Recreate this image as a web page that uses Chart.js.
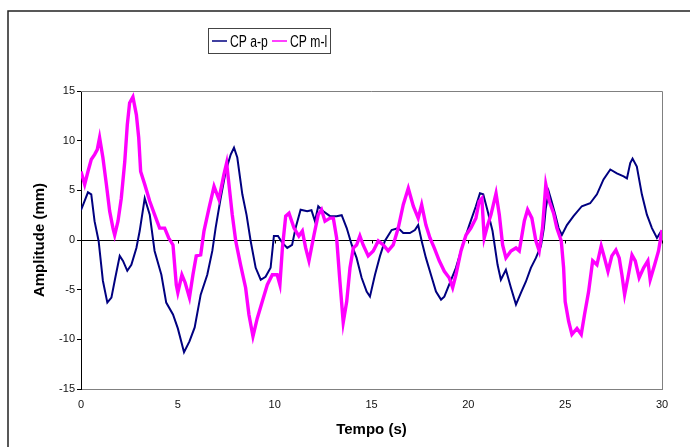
<!DOCTYPE html>
<html>
<head>
<meta charset="utf-8">
<script src="https://cdn.jsdelivr.net/npm/chart.js@4/dist/chart.umd.min.js"></script>
<style>
  html, body { margin: 0; padding: 0; background: #fff; }
  #wrap { position: relative; width: 690px; height: 447px; }
</style>
</head>
<body>
<div id="wrap"><canvas id="cpChart" width="690" height="447"></canvas></div>
<script>
// CP a-p: time (s) and amplitude (mm)
var apTime = [0, 0.36, 0.53, 0.7, 0.91, 1.13, 1.36, 1.57, 1.77, 2.0, 2.17, 2.39, 2.6, 2.86, 3.03, 3.29, 3.55, 3.8, 4.15, 4.4,
  4.75, 5.0, 5.32, 5.6, 5.87, 6.18, 6.52, 6.78, 6.95, 7.21, 7.47, 7.73, 7.9, 8.07, 8.33, 8.55, 8.76, 9.02, 9.28, 9.53,
  9.79, 9.96, 10.17, 10.4, 10.65, 10.9, 11.08, 11.34, 11.68, 11.9, 12.08, 12.25, 12.51, 12.86, 13.2, 13.46, 13.72, 13.98, 14.23, 14.49,
  14.75, 14.92, 15.18, 15.44, 15.69, 16.04, 16.38, 16.64, 16.98, 17.24, 17.41, 17.59, 17.81, 18.07, 18.33, 18.59, 18.76, 19.01, 19.36, 19.71,
  20.05, 20.39, 20.6, 20.77, 21.0, 21.25, 21.51, 21.68, 21.94, 22.2, 22.46, 22.72, 22.97, 23.23, 23.49, 23.75, 23.9, 24.0, 24.15, 24.3,
  24.49, 24.66, 24.83, 25.09, 25.43, 25.86, 26.29, 26.64, 26.98, 27.33, 27.67, 28.02, 28.19, 28.36, 28.48, 28.7, 28.96, 29.22, 29.48, 29.74, 29.96];
var apValues = [3.0, 4.8, 4.6, 1.9, -0.1, -4.1, -6.3, -5.8, -3.8, -1.6, -2.1, -3.1, -2.5, -0.8, 0.9, 4.2, 2.55, -1.1, -3.5, -6.3,
  -7.5, -8.9, -11.3, -10.2, -8.8, -5.5, -3.5, -1.1, 1.2, 4.2, 6.9, 8.6, 9.3, 8.3, 4.6, 2.5, -0.1, -2.8, -4.0, -3.7,
  -2.8, 0.4, 0.4, -0.3, -0.8, -0.5, 1.2, 3.05, 2.9, 3.0, 1.9, 3.4, 2.9, 2.4, 2.4, 2.5, 1.2, -0.5, -1.8, -3.8,
  -5.2, -5.7, -3.5, -1.6, -0.1, 1.0, 1.2, 0.7, 0.7, 1.0, 1.5, -0.1, -1.8, -3.5, -5.2, -6.0, -5.7, -4.5, -2.8, -0.5,
  1.5, 3.4, 4.7, 4.6, 2.9, 0.9, -2.5, -4.0, -3.0, -4.8, -6.5, -5.3, -4.2, -2.8, -1.8, -0.6, 1.2, 3.2, 4.9, 3.9,
  2.55, 1.2, 0.5, 1.5, 2.4, 3.4, 3.7, 4.6, 6.1, 7.1, 6.7, 6.4, 6.2, 7.75, 8.2, 7.4, 4.6, 2.55, 1.2, 0.2, 0.9];

// CP m-l: time (s) and amplitude (mm)
var mlTime = [0, 0.19, 0.36, 0.53, 0.7, 0.84, 0.96, 1.13, 1.31, 1.48, 1.65, 1.74, 1.91, 2.08, 2.26, 2.39, 2.51, 2.68, 2.86, 2.98,
  3.08, 3.29, 3.55, 3.8, 4.06, 4.32, 4.53, 4.75, 4.92, 5.0, 5.21, 5.38, 5.6, 5.78, 5.95, 6.18, 6.35, 6.61, 6.87, 7.12,
  7.38, 7.52, 7.64, 7.81, 7.99, 8.24, 8.5, 8.67, 8.88, 9.1, 9.36, 9.62, 9.88, 10.13, 10.27, 10.4, 10.57, 10.74, 11.0, 11.25,
  11.43, 11.6, 11.77, 12.03, 12.25, 12.42, 12.6, 12.86, 13.03, 13.2, 13.37, 13.54, 13.72, 13.89, 14.06, 14.23, 14.4, 14.57, 14.83, 15.09,
  15.35, 15.61, 15.86, 16.12, 16.38, 16.64, 16.9, 17.16, 17.41, 17.59, 17.81, 18.02, 18.24, 18.5, 18.76, 19.01, 19.19, 19.36, 19.62, 19.88,
  20.13, 20.39, 20.56, 20.7, 20.82, 21.0, 21.17, 21.43, 21.6, 21.77, 21.94, 22.2, 22.46, 22.63, 22.89, 23.06, 23.28, 23.49, 23.66, 23.83,
  24.0, 24.18, 24.4, 24.57, 24.8, 24.92, 25.0, 25.18, 25.35, 25.61, 25.83, 26.0, 26.21, 26.42, 26.64, 26.86, 27.03, 27.21, 27.41, 27.62,
  27.79, 27.93, 28.07, 28.24, 28.45, 28.62, 28.82, 29.05, 29.27, 29.39, 29.62, 29.82, 30.0];
var mlValues = [6.9, 5.6, 6.9, 8.1, 8.6, 9.1, 10.3, 8.3, 5.6, 2.9, 1.2, 0.5, 1.9, 4.2, 7.9, 11.6, 13.8, 14.4, 12.6, 10.3,
  6.9, 5.6, 3.9, 2.55, 1.2, 1.2, 0.2, -0.5, -4.5, -5.3, -3.5, -4.3, -5.8, -3.5, -1.6, -1.5, 0.9, 3.2, 5.4, 4.1,
  6.6, 7.75, 5.6, 2.55, -0.1, -2.5, -4.8, -7.5, -9.7, -7.9, -6.2, -4.5, -3.5, -3.5, -4.5, -0.8, 2.4, 2.7, 1.2, 0.4,
  0.9, -0.8, -2.1, 0.5, 2.55, 3.05, 1.9, 2.2, 2.2, 0.2, -4.2, -8.3, -6.2, -2.8, -0.8, -0.5, 0.4, -0.5, -1.6, -1.1,
  -0.1, -0.5, -1.1, -0.5, 1.2, 3.55, 5.2, 3.4, 2.2, 3.55, 1.5, 0.2, -0.8, -2.1, -3.15, -3.8, -4.8, -3.5, -1.1, 0.5,
  1.2, 2.2, 3.9, 4.2, 0.2, 1.5, 2.55, 4.7, 2.55, -0.5, -1.8, -1.1, -0.8, -1.1, 1.9, 3.05, 2.2, -0.1, -1.1, 1.2,
  5.6, 3.9, 2.7, 1.2, -0.1, -2.8, -6.2, -8.2, -9.5, -8.9, -9.5, -7.5, -5.2, -2.1, -2.5, -0.6, -1.8, -3.15, -1.6, -1.0,
  -1.8, -3.5, -5.5, -3.8, -1.5, -2.1, -3.8, -2.8, -2.1, -4.0, -2.5, -1.1, 1.0];

var xTicks = [0, 5, 10, 15, 20, 25, 30];
var yTicks = [-15, -10, -5, 0, 5, 10, 15];
var seriesNames = ['CP a-p', 'CP m-l'];
var seriesColors = ['#000080', '#ff00ff'];

function toPoints(ts, vs) {
  return ts.map(function (t, i) { return { x: t, y: vs[i] }; });
}

var FONT = "'Liberation Sans', Arial, sans-serif";

// frame, plot border, tick marks on the zero line and the boxed legend
var decor = {
  id: 'decor',
  beforeDraw: function (chart) {
    var c = chart.ctx;
    c.save();
    c.fillStyle = '#fff';
    c.fillRect(0, 0, chart.width, chart.height);
    c.strokeStyle = '#222';
    c.lineWidth = 1.5;
    c.strokeRect(8, 11, chart.width + 20, chart.height + 20);
    c.restore();
  },
  beforeDatasetsDraw: function (chart) {
    var c = chart.ctx, a = chart.chartArea;
    var xs = chart.scales.x, ys = chart.scales.y;
    c.save();
    c.strokeStyle = '#808080';
    c.lineWidth = 1;
    c.beginPath();
    c.moveTo(a.left, a.top + 0.5);
    c.lineTo(a.right + 0.5, a.top + 0.5);
    c.lineTo(a.right + 0.5, a.bottom);
    c.stroke();
    var y0 = Math.round(ys.getPixelForValue(0)) + 0.5;
    c.strokeStyle = '#000';
    c.beginPath();
    xTicks.forEach(function (t) {
      var px = Math.round(xs.getPixelForValue(t)) + 0.5;
      c.moveTo(px, y0);
      c.lineTo(px, y0 + 3);
    });
    c.stroke();
    c.restore();
  },
  afterDraw: function (chart) {
    var c = chart.ctx;
    c.save();
    c.fillStyle = '#fff';
    c.fillRect(208, 28, 122, 25);
    c.strokeStyle = '#444';
    c.lineWidth = 1;
    c.strokeRect(208.5, 28.5, 122, 25);
    var items = [{ x: 212, tx: 230 }, { x: 272, tx: 290 }];
    items.forEach(function (it, i) {
      c.strokeStyle = seriesColors[i];
      c.lineWidth = 1.5;
      c.beginPath();
      c.moveTo(it.x, 41);
      c.lineTo(it.x + 15, 41);
      c.stroke();
      // narrow the legend text horizontally
      c.save();
      c.translate(it.tx, 47);
      c.scale(0.76, 1);
      c.font = "16px " + FONT;
      c.fillStyle = '#000';
      c.textBaseline = 'alphabetic';
      c.fillText(seriesNames[i], 0, 0);
      c.restore();
    });
    c.restore();
  }
};

var ctx = document.getElementById('cpChart').getContext('2d');
new Chart(ctx, {
  type: 'line',
  data: {
    datasets: [
      { label: seriesNames[0], data: toPoints(apTime, apValues), borderColor: seriesColors[0], borderWidth: 2, pointRadius: 0, tension: 0, order: 2 },
      { label: seriesNames[1], data: toPoints(mlTime, mlValues), borderColor: seriesColors[1], borderWidth: 3.4, pointRadius: 0, tension: 0, order: 1 }
    ]
  },
  options: {
    responsive: false,
    animation: false,
    layout: { padding: { left: 0, right: 28, top: 91, bottom: 0 } },
    plugins: { legend: { display: false }, tooltip: { enabled: false } },
    scales: {
      x: {
        type: 'linear', min: 0, max: 30,
        afterBuildTicks: function (s) { s.ticks = xTicks.map(function (v) { return { value: v }; }); },
        afterFit: function (s) { s.height = 58; },
        grid: { display: false, drawTicks: false },
        border: { display: true, color: '#808080', width: 1 },
        ticks: { padding: 9, color: '#111', font: { family: FONT, size: 11 }, maxRotation: 0 },
        title: { display: true, text: 'Tempo (s)', color: '#000', font: { family: FONT, size: 15, weight: 'bold' }, padding: { top: 0, bottom: 8 } }
      },
      y: {
        min: -15, max: 15,
        afterBuildTicks: function (s) { s.ticks = yTicks.map(function (v) { return { value: v }; }); },
        afterFit: function (s) { s.width = 81; },
        grid: {
          color: function (c) { return c.tick && c.tick.value === 0 ? '#000' : 'rgba(0,0,0,0)'; },
          tickColor: '#000', tickLength: 4, lineWidth: 1
        },
        border: { display: true, color: '#000', width: 1 },
        ticks: { padding: 2, color: '#111', font: { family: FONT, size: 11 } },
        title: { display: true, text: 'Amplitude (mm)', color: '#000', font: { family: FONT, size: 15, weight: 'bold' }, padding: { top: 31, bottom: 0 } }
      }
    }
  },
  plugins: [decor]
});
</script>
</body>
</html>
